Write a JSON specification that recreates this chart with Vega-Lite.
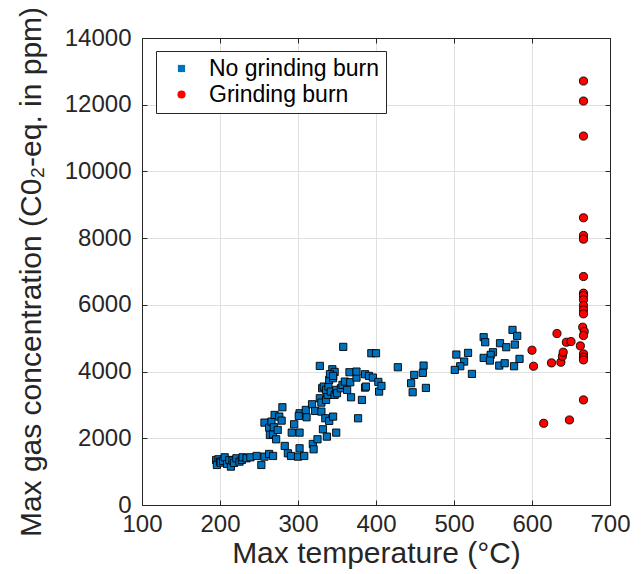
{
  "$schema": "https://vega.github.io/schema/vega-lite/v6.json",
  "width": 468,
  "height": 467,
  "autosize": {"type": "none"},
  "padding": {"left": 142, "top": 38, "right": 33, "bottom": 69},
  "background": "white",
  "config": {
    "font": "Liberation Sans",
    "view": {"stroke": "#262626", "strokeWidth": 1},
    "axis": {
      "labelFont": "Liberation Sans",
      "titleFont": "Liberation Sans",
      "labelFontSize": 24,
      "titleFontSize": 30,
      "titleFontWeight": "normal",
      "labelColor": "#262626",
      "titleColor": "#262626",
      "domainColor": "#262626",
      "tickColor": "#262626",
      "gridColor": "#e0e0e0",
      "gridWidth": 1,
      "tickSize": -5,
      "labelFlush": false,
      "labelOverlap": false
    }
  },
  "data": {
    "values": [
      {"temp": 195, "conc": 1350, "group": "No grinding burn"},
      {"temp": 198, "conc": 1370, "group": "No grinding burn"},
      {"temp": 196, "conc": 1200, "group": "No grinding burn"},
      {"temp": 200, "conc": 1300, "group": "No grinding burn"},
      {"temp": 201, "conc": 1270, "group": "No grinding burn"},
      {"temp": 204, "conc": 1320, "group": "No grinding burn"},
      {"temp": 206, "conc": 1430, "group": "No grinding burn"},
      {"temp": 209, "conc": 1230, "group": "No grinding burn"},
      {"temp": 212, "conc": 1350, "group": "No grinding burn"},
      {"temp": 214, "conc": 1150, "group": "No grinding burn"},
      {"temp": 216, "conc": 1330, "group": "No grinding burn"},
      {"temp": 218, "conc": 1260, "group": "No grinding burn"},
      {"temp": 221, "conc": 1400, "group": "No grinding burn"},
      {"temp": 225, "conc": 1300, "group": "No grinding burn"},
      {"temp": 228, "conc": 1350, "group": "No grinding burn"},
      {"temp": 229, "conc": 1430, "group": "No grinding burn"},
      {"temp": 234, "conc": 1400, "group": "No grinding burn"},
      {"temp": 239, "conc": 1430, "group": "No grinding burn"},
      {"temp": 247, "conc": 1470, "group": "No grinding burn"},
      {"temp": 253, "conc": 1200, "group": "No grinding burn"},
      {"temp": 257, "conc": 1450, "group": "No grinding burn"},
      {"temp": 263, "conc": 1530, "group": "No grinding burn"},
      {"temp": 268, "conc": 1470, "group": "No grinding burn"},
      {"temp": 257, "conc": 2470, "group": "No grinding burn"},
      {"temp": 263, "conc": 2320, "group": "No grinding burn"},
      {"temp": 264, "conc": 2100, "group": "No grinding burn"},
      {"temp": 266, "conc": 2500, "group": "No grinding burn"},
      {"temp": 268, "conc": 2120, "group": "No grinding burn"},
      {"temp": 269, "conc": 2330, "group": "No grinding burn"},
      {"temp": 270, "conc": 2700, "group": "No grinding burn"},
      {"temp": 272, "conc": 1970, "group": "No grinding burn"},
      {"temp": 274, "conc": 2250, "group": "No grinding burn"},
      {"temp": 276, "conc": 2650, "group": "No grinding burn"},
      {"temp": 279, "conc": 2530, "group": "No grinding burn"},
      {"temp": 280, "conc": 2930, "group": "No grinding burn"},
      {"temp": 283, "conc": 1770, "group": "No grinding burn"},
      {"temp": 287, "conc": 1550, "group": "No grinding burn"},
      {"temp": 291, "conc": 1470, "group": "No grinding burn"},
      {"temp": 300, "conc": 1450, "group": "No grinding burn"},
      {"temp": 308, "conc": 1470, "group": "No grinding burn"},
      {"temp": 302, "conc": 1700, "group": "No grinding burn"},
      {"temp": 319, "conc": 1830, "group": "No grinding burn"},
      {"temp": 320, "conc": 1670, "group": "No grinding burn"},
      {"temp": 325, "conc": 1970, "group": "No grinding burn"},
      {"temp": 332, "conc": 2270, "group": "No grinding burn"},
      {"temp": 337, "conc": 2050, "group": "No grinding burn"},
      {"temp": 349, "conc": 2170, "group": "No grinding burn"},
      {"temp": 295, "conc": 2420, "group": "No grinding burn"},
      {"temp": 292, "conc": 2170, "group": "No grinding burn"},
      {"temp": 302, "conc": 2170, "group": "No grinding burn"},
      {"temp": 302, "conc": 2750, "group": "No grinding burn"},
      {"temp": 301, "conc": 2670, "group": "No grinding burn"},
      {"temp": 310, "conc": 2850, "group": "No grinding burn"},
      {"temp": 311, "conc": 2630, "group": "No grinding burn"},
      {"temp": 318, "conc": 3020, "group": "No grinding burn"},
      {"temp": 322, "conc": 2820, "group": "No grinding burn"},
      {"temp": 330, "conc": 2800, "group": "No grinding burn"},
      {"temp": 335, "conc": 2600, "group": "No grinding burn"},
      {"temp": 340, "conc": 2520, "group": "No grinding burn"},
      {"temp": 345, "conc": 2650, "group": "No grinding burn"},
      {"temp": 377, "conc": 2600, "group": "No grinding burn"},
      {"temp": 328, "conc": 3200, "group": "No grinding burn"},
      {"temp": 330, "conc": 3070, "group": "No grinding burn"},
      {"temp": 331, "conc": 3500, "group": "No grinding burn"},
      {"temp": 336, "conc": 3150, "group": "No grinding burn"},
      {"temp": 338, "conc": 3300, "group": "No grinding burn"},
      {"temp": 333, "conc": 3550, "group": "No grinding burn"},
      {"temp": 336, "conc": 3450, "group": "No grinding burn"},
      {"temp": 339, "conc": 3550, "group": "No grinding burn"},
      {"temp": 340, "conc": 3750, "group": "No grinding burn"},
      {"temp": 342, "conc": 3400, "group": "No grinding burn"},
      {"temp": 345, "conc": 3800, "group": "No grinding burn"},
      {"temp": 347, "conc": 3300, "group": "No grinding burn"},
      {"temp": 349, "conc": 3450, "group": "No grinding burn"},
      {"temp": 350, "conc": 3350, "group": "No grinding burn"},
      {"temp": 355, "conc": 3500, "group": "No grinding burn"},
      {"temp": 357, "conc": 3600, "group": "No grinding burn"},
      {"temp": 360, "conc": 3700, "group": "No grinding burn"},
      {"temp": 363, "conc": 3450, "group": "No grinding burn"},
      {"temp": 367, "conc": 3680, "group": "No grinding burn"},
      {"temp": 375, "conc": 3820, "group": "No grinding burn"},
      {"temp": 368, "conc": 3230, "group": "No grinding burn"},
      {"temp": 382, "conc": 3150, "group": "No grinding burn"},
      {"temp": 386, "conc": 3520, "group": "No grinding burn"},
      {"temp": 387, "conc": 3550, "group": "No grinding burn"},
      {"temp": 404, "conc": 3400, "group": "No grinding burn"},
      {"temp": 328, "conc": 4170, "group": "No grinding burn"},
      {"temp": 344, "conc": 4070, "group": "No grinding burn"},
      {"temp": 347, "conc": 3990, "group": "No grinding burn"},
      {"temp": 341, "conc": 3920, "group": "No grinding burn"},
      {"temp": 345, "conc": 3870, "group": "No grinding burn"},
      {"temp": 358, "conc": 4740, "group": "No grinding burn"},
      {"temp": 366, "conc": 3980, "group": "No grinding burn"},
      {"temp": 375, "conc": 4000, "group": "No grinding burn"},
      {"temp": 386, "conc": 3920, "group": "No grinding burn"},
      {"temp": 391, "conc": 3870, "group": "No grinding burn"},
      {"temp": 396, "conc": 3820, "group": "No grinding burn"},
      {"temp": 403, "conc": 3690, "group": "No grinding burn"},
      {"temp": 407, "conc": 3570, "group": "No grinding burn"},
      {"temp": 394, "conc": 4550, "group": "No grinding burn"},
      {"temp": 400, "conc": 4550, "group": "No grinding burn"},
      {"temp": 428, "conc": 4130, "group": "No grinding burn"},
      {"temp": 449, "conc": 3900, "group": "No grinding burn"},
      {"temp": 445, "conc": 3650, "group": "No grinding burn"},
      {"temp": 447, "conc": 3380, "group": "No grinding burn"},
      {"temp": 461, "conc": 4180, "group": "No grinding burn"},
      {"temp": 460, "conc": 3960, "group": "No grinding burn"},
      {"temp": 464, "conc": 3510, "group": "No grinding burn"},
      {"temp": 503, "conc": 4510, "group": "No grinding burn"},
      {"temp": 518, "conc": 4560, "group": "No grinding burn"},
      {"temp": 513, "conc": 4300, "group": "No grinding burn"},
      {"temp": 508, "conc": 4160, "group": "No grinding burn"},
      {"temp": 501, "conc": 4050, "group": "No grinding burn"},
      {"temp": 523, "conc": 3930, "group": "No grinding burn"},
      {"temp": 538, "conc": 5030, "group": "No grinding burn"},
      {"temp": 540, "conc": 4880, "group": "No grinding burn"},
      {"temp": 550, "conc": 4580, "group": "No grinding burn"},
      {"temp": 547, "conc": 4500, "group": "No grinding burn"},
      {"temp": 538, "conc": 4410, "group": "No grinding burn"},
      {"temp": 546, "conc": 4330, "group": "No grinding burn"},
      {"temp": 559, "conc": 4850, "group": "No grinding burn"},
      {"temp": 567, "conc": 4730, "group": "No grinding burn"},
      {"temp": 575, "conc": 5250, "group": "No grinding burn"},
      {"temp": 581, "conc": 5070, "group": "No grinding burn"},
      {"temp": 578, "conc": 4810, "group": "No grinding burn"},
      {"temp": 558, "conc": 4180, "group": "No grinding burn"},
      {"temp": 565, "conc": 4250, "group": "No grinding burn"},
      {"temp": 577, "conc": 4160, "group": "No grinding burn"},
      {"temp": 584, "conc": 4380, "group": "No grinding burn"},
      {"temp": 600, "conc": 4640, "group": "Grinding burn"},
      {"temp": 602, "conc": 4160, "group": "Grinding burn"},
      {"temp": 615, "conc": 2450, "group": "Grinding burn"},
      {"temp": 625, "conc": 4260, "group": "Grinding burn"},
      {"temp": 632, "conc": 5140, "group": "Grinding burn"},
      {"temp": 637, "conc": 4280, "group": "Grinding burn"},
      {"temp": 639, "conc": 4460, "group": "Grinding burn"},
      {"temp": 640, "conc": 4580, "group": "Grinding burn"},
      {"temp": 644, "conc": 4880, "group": "Grinding burn"},
      {"temp": 648, "conc": 2550, "group": "Grinding burn"},
      {"temp": 650, "conc": 4900, "group": "Grinding burn"},
      {"temp": 662, "conc": 4770, "group": "Grinding burn"},
      {"temp": 666, "conc": 12710, "group": "Grinding burn"},
      {"temp": 666, "conc": 12110, "group": "Grinding burn"},
      {"temp": 666, "conc": 11060, "group": "Grinding burn"},
      {"temp": 666, "conc": 8610, "group": "Grinding burn"},
      {"temp": 666, "conc": 8080, "group": "Grinding burn"},
      {"temp": 666, "conc": 7970, "group": "Grinding burn"},
      {"temp": 666, "conc": 6850, "group": "Grinding burn"},
      {"temp": 666, "conc": 6350, "group": "Grinding burn"},
      {"temp": 666, "conc": 6280, "group": "Grinding burn"},
      {"temp": 666, "conc": 6150, "group": "Grinding burn"},
      {"temp": 666, "conc": 5980, "group": "Grinding burn"},
      {"temp": 666, "conc": 5850, "group": "Grinding burn"},
      {"temp": 666, "conc": 5730, "group": "Grinding burn"},
      {"temp": 665, "conc": 5330, "group": "Grinding burn"},
      {"temp": 667, "conc": 5200, "group": "Grinding burn"},
      {"temp": 666, "conc": 5080, "group": "Grinding burn"},
      {"temp": 666, "conc": 4530, "group": "Grinding burn"},
      {"temp": 666, "conc": 4430, "group": "Grinding burn"},
      {"temp": 666, "conc": 4350, "group": "Grinding burn"},
      {"temp": 666, "conc": 3150, "group": "Grinding burn"}
    ]
  },
  "layer": [
    {
      "mark": {"type": "point", "filled": true, "stroke": "#000000", "strokeWidth": 0.9, "opacity": 1},
      "encoding": {
        "x": {
          "field": "temp", "type": "quantitative",
          "scale": {"domain": [100, 700], "nice": false, "zero": false},
          "axis": {"orient": "bottom", "title": "Max temperature (°C)", "values": [100, 200, 300, 400, 500, 600, 700], "format": "d", "labelPadding": 12, "titlePadding": 2}
        },
        "y": {
          "field": "conc", "type": "quantitative",
          "scale": {"domain": [0, 14000], "nice": false, "zero": false},
          "axis": {"orient": "left", "title": "Max gas concentration (C0₂-eq. in ppm)", "values": [0, 2000, 4000, 6000, 8000, 10000, 12000, 14000], "format": "d", "labelPadding": 16, "titlePadding": 18}
        },
        "fill": {
          "field": "group", "type": "nominal",
          "scale": {"domain": ["No grinding burn", "Grinding burn"], "range": ["#0072BD", "#FF0000"]},
          "legend": {"orient": "none", "legendX": 14, "legendY": 13, "title": null, "fillColor": "white", "strokeColor": "#262626", "padding": 6, "labelFont": "Liberation Sans", "labelFontSize": 23, "labelColor": "#000000", "labelLimit": 0, "symbolStrokeColor": "#000000", "symbolStrokeWidth": 0.9, "symbolOffset": 8, "labelOffset": 16, "rowPadding": 2}
        },
        "shape": {
          "field": "group", "type": "nominal",
          "scale": {"domain": ["No grinding burn", "Grinding burn"], "range": ["square", "circle"]},
          "legend": {"orient": "none", "legendX": 14, "legendY": 13, "title": null, "fillColor": "white", "strokeColor": "#262626", "padding": 6, "labelFont": "Liberation Sans", "labelFontSize": 23, "labelColor": "#000000", "labelLimit": 0, "symbolStrokeColor": "#000000", "symbolStrokeWidth": 0.9, "symbolOffset": 8, "labelOffset": 16, "rowPadding": 2}
        },
        "size": {
          "field": "group", "type": "nominal",
          "scale": {"domain": ["No grinding burn", "Grinding burn"], "range": [52, 66]},
          "legend": {"orient": "none", "legendX": 14, "legendY": 13, "title": null, "fillColor": "white", "strokeColor": "#262626", "padding": 6, "labelFont": "Liberation Sans", "labelFontSize": 23, "labelColor": "#000000", "labelLimit": 0, "symbolStrokeColor": "#000000", "symbolStrokeWidth": 0.9, "symbolOffset": 8, "labelOffset": 16, "rowPadding": 2}
        }
      }
    },
    {
      "mark": {"type": "point", "opacity": 0},
      "encoding": {
        "x": {
          "field": "temp", "type": "quantitative",
          "axis": {"orient": "top", "labels": false, "title": null, "grid": false, "values": [100, 200, 300, 400, 500, 600, 700]}
        },
        "y": {
          "field": "conc", "type": "quantitative",
          "axis": {"orient": "right", "labels": false, "title": null, "grid": false, "values": [0, 2000, 4000, 6000, 8000, 10000, 12000, 14000]}
        }
      }
    }
  ],
  "resolve": {"axis": {"x": "independent", "y": "independent"}}
}
